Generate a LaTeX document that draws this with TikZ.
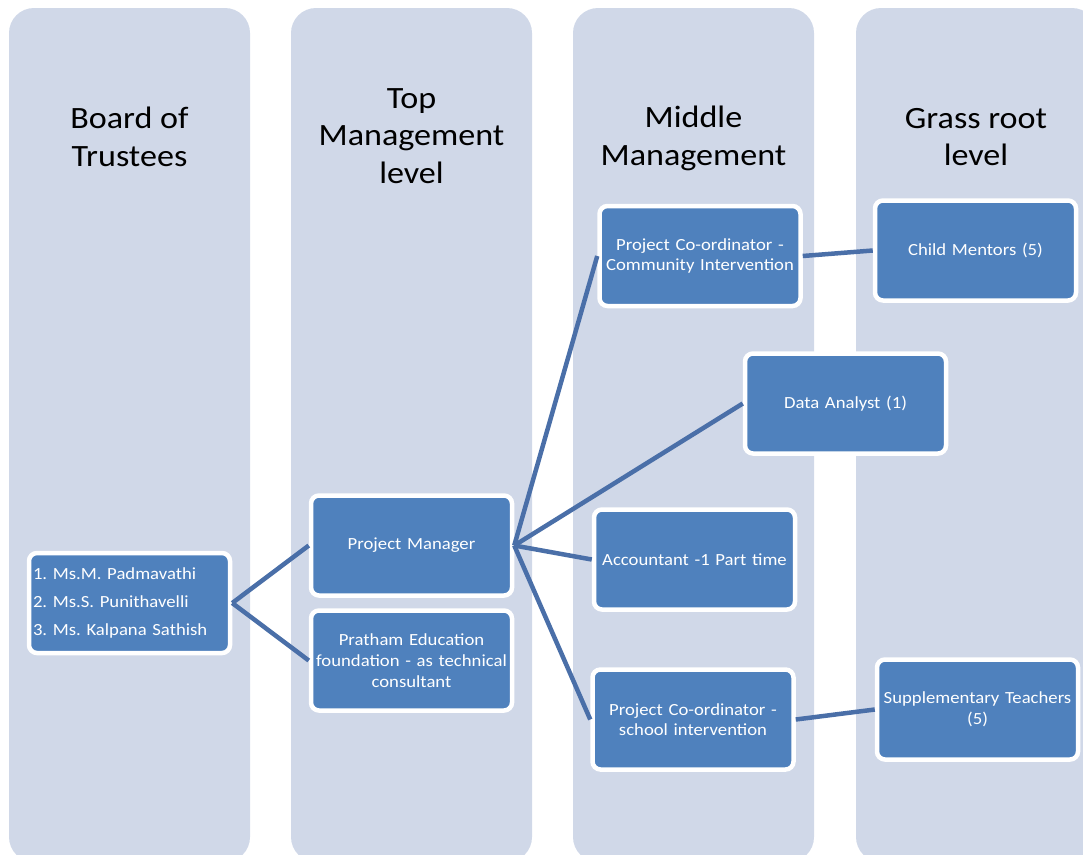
\documentclass[tikz,border=0pt]{standalone}
\usepackage{fontspec}
\setmainfont{Carlito}[FakeStretch=1.1]
\frenchspacing
\definecolor{colfill}{HTML}{D0D8E8}
\definecolor{boxblue}{HTML}{4F81BD}
\definecolor{linkblue}{HTML}{4A6FA8}
\tikzset{
  colbg/.style={fill=colfill, rounded corners=25pt},
  header/.style={align=center, text=black, font=\fontsize{31}{37.8}\selectfont, inner sep=0pt},
  orgbox/.style={rectangle, rounded corners=8pt, fill=boxblue, draw=white, line width=4.5pt,
    text=white, minimum width=201pt, minimum height=100pt, align=center, text width=195pt,
    inner xsep=3pt, font=\fontsize{17}{20.7}\selectfont},
  link/.style={draw=linkblue, line width=4.5pt}
}
\begin{document}
\begin{tikzpicture}[x=1pt, y=-1pt]
\useasboundingbox (0,0) rectangle (1083,854);
\clip (0,0) rectangle (1083,854);
% columns
\fill[colbg] (9,8) rectangle (250,862);
\fill[colbg] (291,8) rectangle (532,862);
\fill[colbg] (573,8) rectangle (814,862);
\fill[colbg] (856,8) rectangle (1097,862);
% headers
\node[header] (h1) at (129.5,137) {Board of\\Trustees};
\node[header] (h2) at (411.5,136) {Top\\Management\\level};
\node[header] (h3) at (693.5,138) {Middle\\Management};
\node[header] (h4) at (976,137) {Grass root\\level};
% boxes
\node[orgbox, align=left, text width=193pt, inner xsep=3.75pt] (tr) at (129.5,603)
  {1. Ms.M. Padmavathi\\[7.3pt]2. Ms.S. Punithavelli\\[7.3pt]3. Ms. Kalpana Sathish};
\node[orgbox] (pm) at (411.5,545.5) {Project Manager};
\node[orgbox] (pr) at (411.5,660.5) {Pratham Education\\foundation - as technical\\consultant};
\node[orgbox] (pcc) at (700,256) {Project Co-ordinator -\\Community Intervention};
\node[orgbox] (da) at (845.5,403.5) {Data Analyst (1)};
\node[orgbox] (acc) at (694.5,559.5) {Accountant -1 Part time};
\node[orgbox] (pcs) at (693,719.5) {Project Co-ordinator -\\school intervention};
\node[orgbox] (cm) at (975.5,250.5) {Child Mentors (5)};
\node[orgbox] (st) at (977.5,709.5) {Supplementary Teachers\\(5)};
% connectors
\draw[link] (tr.east) -- (pm.west);
\draw[link] (tr.east) -- (pr.west);
\draw[link] (pm.east) -- (pcc.west);
\draw[link] (pm.east) -- (da.west);
\draw[link] (pm.east) -- (acc.west);
\draw[link] (pm.east) -- (pcs.west);
\draw[link] (pcc.east) -- (cm.west);
\draw[link] (pcs.east) -- (st.west);
\end{tikzpicture}
\end{document}
